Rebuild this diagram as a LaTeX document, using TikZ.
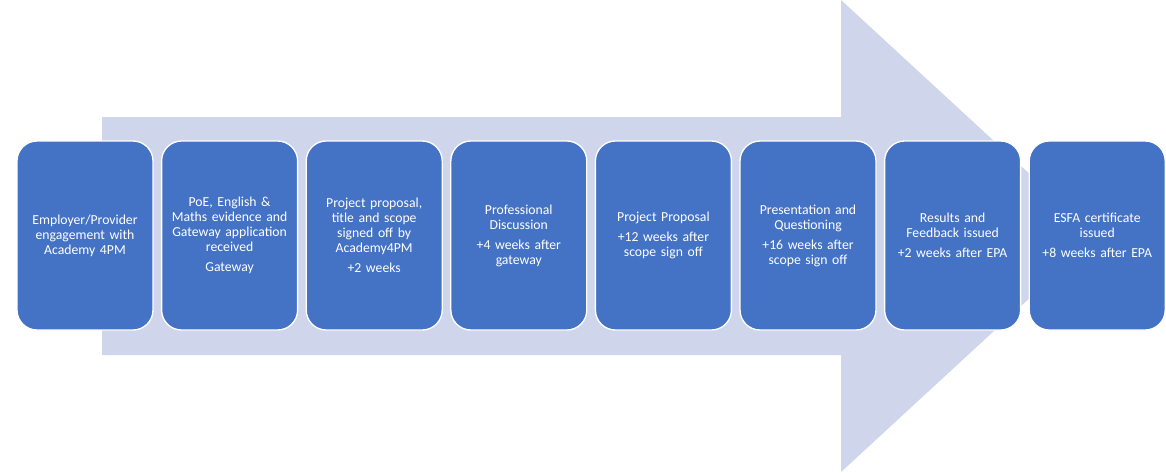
\documentclass[tikz,border=0pt]{standalone}
\usepackage{fontspec}
\setmainfont{Carlito}
\usetikzlibrary{positioning}
\definecolor{stageblue}{HTML}{4472C4}
\definecolor{arrowpale}{HTML}{CFD5EA}
\begin{document}
\begin{tikzpicture}[x=0.75pt,y=-0.75pt,node distance=5.45pt,
    stage/.style={fill=stageblue,draw=white,line width=1pt,rounded corners=15pt,minimum width=102pt,minimum height=141.75pt,text width=96pt,inner sep=0pt,align=center,text=white,font=\fontsize{10.3}{11.25}\selectfont}]
      \useasboundingbox (0,0) rectangle (1166,472);
      \fill [arrowpale] (102,117) -- (841,117) -- (841,0) -- (1097,236) -- (841,472) -- (841,355) -- (102,355) -- cycle;
      \node [stage] (engage) at (85,235.5) {Employer/Provider\\engagement with\\Academy 4PM};
      \node [stage,right=of engage] (gateway) {PoE, English \&\\Maths evidence and\\Gateway application\\received\\[3.75pt]Gateway};
      \node [stage,right=of gateway] (scope) {Project proposal,\\title and scope\\signed off by\\Academy4PM\\[3.75pt]+2 weeks};
      \node [stage,right=of scope] (discussion) {Professional\\Discussion\\[3.75pt]+4 weeks after\\gateway};
      \node [stage,right=of discussion] (proposal) {Project Proposal\\[3.75pt]+12 weeks after\\scope sign off};
      \node [stage,right=of proposal] (presentation) {Presentation and\\Questioning\\[3.75pt]+16 weeks after\\scope sign off};
      \node [stage,right=of presentation] (results) {Results and\\Feedback issued\\[3.75pt]+2 weeks after EPA};
      \node [stage,right=of results] (certificate) {ESFA certificate\\issued\\[3.75pt]+8 weeks after EPA};
    \end{tikzpicture}
\end{document}
